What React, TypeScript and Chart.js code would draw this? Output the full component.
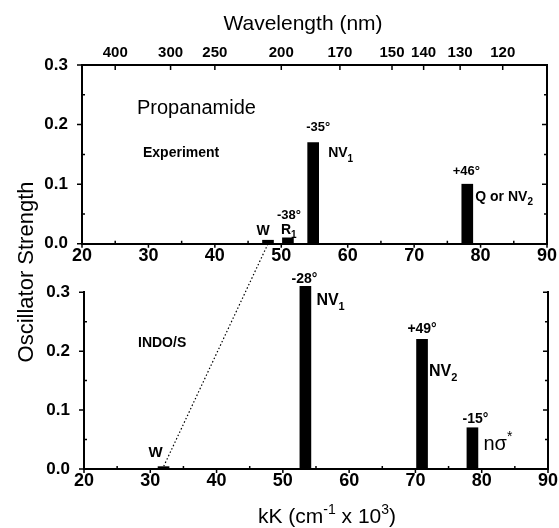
import React, { useEffect, useRef } from 'react';
import { Chart, registerables } from 'chart.js';
Chart.register(...registerables);

const FONT = '"Liberation Sans", Arial, Helvetica, sans-serif';

// ---------- data ----------
const xTicks = [20, 30, 40, 50, 60, 70, 80, 90];
const xMinorTicks = [25, 35, 45, 55, 65, 75, 85];
const yTicks = [0, 0.1, 0.2, 0.3];
const yMinorTicks = [0.05, 0.15, 0.25];
const wavelengthTicks = [400, 300, 250, 200, 170, 150, 140, 130, 120];

const expPositions = [48, 51, 54.8, 78];
const expStrengths = [0.006, 0.01, 0.17, 0.1];
const expAngles = ['', '-38°', '-35°', '+46°'];
const expNames = ['W', 'R', 'NV', 'Q or NV'];
const expNameSubs = ['', '1', '1', '2'];
const expNameSups = ['', '', '', ''];

const indoPositions = [32, 53.4, 71, 78.6];
const indoStrengths = [0.004, 0.31, 0.22, 0.07];
const indoAngles = ['', '-28°', '+49°', '-15°'];
const indoNames = ['W', 'NV', 'NV', 'nσ'];
const indoNameSubs = ['', '1', '2', ''];
const indoNameSups = ['', '', '', '*'];

// ---------- label layout (pixel offsets from bar top centre) ----------
type LabelPos = { angle: [number, number]; name: [number, number, string]; size: number; weight: string };
const expLabelLayout: LabelPos[] = [
  { angle: [0, 0], name: [-5, -5, 'center'], size: 14, weight: 'bold' },
  { angle: [1, -19], name: [-7, -4, 'left'], size: 14, weight: 'bold' },
  { angle: [5, -11], name: [15, 15, 'left'], size: 14, weight: 'bold' },
  { angle: [-1, -9], name: [8, 17, 'left'], size: 14, weight: 'bold' },
];
const indoLabelLayout: LabelPos[] = [
  { angle: [0, 0], name: [-8, -10, 'center'], size: 15, weight: 'bold' },
  { angle: [-1, -3], name: [11, 19, 'left'], size: 16, weight: 'bold' },
  { angle: [0, -6], name: [7, 37, 'left'], size: 16, weight: 'bold' },
  { angle: [3, -5], name: [11, 22, 'left'], size: 20, weight: 'normal' },
];

type Seg = { t: string; k?: 'sub' | 'sup' };

function drawRich(ctx: CanvasRenderingContext2D, segs: Seg[], x: number, y: number, size: number, weight: string, align: string) {
  const main = `${weight} ${size}px ${FONT}`;
  const small = `${weight} ${Math.round(size * 0.68)}px ${FONT}`;
  let total = 0;
  const widths = segs.map((s) => {
    ctx.font = s.k ? small : main;
    const w = ctx.measureText(s.t).width;
    total += w;
    return w;
  });
  let cx = align === 'center' ? x - total / 2 : align === 'right' ? x - total : x;
  ctx.textAlign = 'left';
  ctx.textBaseline = 'alphabetic';
  segs.forEach((s, i) => {
    ctx.font = s.k ? small : main;
    const dy = s.k === 'sub' ? size * 0.3 : s.k === 'sup' ? -size * 0.42 : 0;
    ctx.fillText(s.t, cx, y + dy);
    cx += widths[i];
  });
}

function panelPlugin(cfg: {
  topAxis: boolean;
  positions: number[];
  strengths: number[];
  angles: string[];
  names: string[];
  subs: string[];
  sups: string[];
  layout: LabelPos[];
  angleSize: number;
  texts: { t: string; dx: number; dy: number; font: string }[];
  xTitle: boolean;
}) {
  return {
    id: 'panelDecor',
    afterDatasetsDraw(chart: any) {
      const ctx: CanvasRenderingContext2D = chart.ctx;
      const { left, right, top, bottom } = chart.chartArea;
      const xs = chart.scales.x;
      const ys = chart.scales.y;
      ctx.save();
      ctx.strokeStyle = '#000';
      ctx.fillStyle = '#000';
      ctx.lineWidth = 1.5;
      ctx.beginPath();
      yTicks.forEach((v) => {
        const p = ys.getPixelForValue(v);
        ctx.moveTo(left - 5, p);
        ctx.lineTo(left, p);
        ctx.moveTo(right, p);
        ctx.lineTo(right - 5, p);
      });
      yMinorTicks.forEach((v) => {
        const p = ys.getPixelForValue(v);
        ctx.moveTo(left, p);
        ctx.lineTo(left + 3, p);
        ctx.moveTo(right, p);
        ctx.lineTo(right - 3, p);
      });
      xTicks.forEach((v) => {
        const p = xs.getPixelForValue(v);
        ctx.moveTo(p, bottom);
        ctx.lineTo(p, bottom + 4);
      });
      xMinorTicks.forEach((v) => {
        const p = xs.getPixelForValue(v);
        ctx.moveTo(p, bottom);
        ctx.lineTo(p, bottom - 3);
      });
      if (cfg.topAxis) {
        wavelengthTicks.forEach((w) => {
          const p = xs.getPixelForValue(1e4 / w);
          ctx.moveTo(p, top);
          ctx.lineTo(p, top + 5);
        });
      }
      ctx.stroke();

      // bar annotations
      cfg.positions.forEach((pos, i) => {
        const cx = xs.getPixelForValue(pos);
        const ty = ys.getPixelForValue(cfg.strengths[i]);
        const lay = cfg.layout[i];
        if (cfg.angles[i]) {
          ctx.font = `bold ${cfg.angleSize}px ${FONT}`;
          ctx.textAlign = 'center';
          ctx.textBaseline = 'alphabetic';
          ctx.fillText(cfg.angles[i], cx + lay.angle[0], ty + lay.angle[1]);
        }
        const segs: Seg[] = [{ t: cfg.names[i] }];
        if (cfg.subs[i]) segs.push({ t: cfg.subs[i], k: 'sub' });
        if (cfg.sups[i]) segs.push({ t: cfg.sups[i], k: 'sup' });
        drawRich(ctx, segs, cx + lay.name[0], ty + lay.name[1], lay.size, lay.weight, lay.name[2]);
      });

      // free texts
      cfg.texts.forEach((tx) => {
        ctx.font = tx.font;
        ctx.textAlign = 'left';
        ctx.textBaseline = 'alphabetic';
        ctx.fillText(tx.t, left + tx.dx, top + tx.dy);
      });

      if (cfg.topAxis) {
        ctx.font = `normal 21px ${FONT}`;
        ctx.textAlign = 'center';
        ctx.textBaseline = 'alphabetic';
        ctx.fillText('Wavelength (nm)', left + 221, 30);
      }
      if (cfg.xTitle) {
        drawRich(
          ctx,
          [{ t: 'kK (cm' }, { t: '-1', k: 'sup' }, { t: ' x 10' }, { t: '3', k: 'sup' }, { t: ')' }],
          left + 174,
          bottom + 54,
          21,
          'normal',
          'left'
        );
      }
      ctx.restore();
    },
  };
}

function buildChart(
  canvas: HTMLCanvasElement,
  positions: number[],
  strengths: number[],
  opts: { leftW: number; rightW: number; topH: number; bottomH: number; topAxis: boolean; padTop: number },
  plugin: any
) {
  const tickFont = { family: FONT, size: 17, weight: 'bold' as const };
  const scales: any = {
    x: {
      type: 'linear',
      position: 'bottom',
      min: 20,
      max: 90,
      offset: false,
      grid: { display: false, drawTicks: false, offset: false },
      border: { display: true, color: '#000', width: 2 },
      ticks: { font: { ...tickFont, size: 18 }, color: '#000', padding: 1, maxRotation: 0, autoSkip: false },
      afterBuildTicks: (s: any) => {
        s.ticks = xTicks.map((v) => ({ value: v }));
      },
      afterFit: (s: any) => {
        s.height = opts.bottomH;
      },
    },
    y: {
      type: 'linear',
      position: 'left',
      min: 0,
      max: 0.3,
      grid: { display: false, drawTicks: false },
      border: { display: true, color: '#000', width: 2 },
      ticks: {
        font: tickFont,
        color: '#000',
        padding: 14,
        callback: (v: number) => Number(v).toFixed(1),
      },
      afterBuildTicks: (s: any) => {
        s.ticks = yTicks.map((v) => ({ value: v }));
      },
      afterFit: (s: any) => {
        s.width = opts.leftW;
      },
    },
    yR: {
      type: 'linear',
      position: 'right',
      min: 0,
      max: 0.3,
      grid: { display: false, drawTicks: false },
      border: { display: true, color: '#000', width: 2 },
      ticks: { display: false },
      afterFit: (s: any) => {
        s.width = opts.rightW;
      },
    },
  };
  if (opts.topAxis) {
    scales.xTop = {
      type: 'linear',
      position: 'top',
      min: 20,
      max: 90,
      offset: false,
      grid: { display: false, drawTicks: false, offset: false },
      border: { display: true, color: '#000', width: 2 },
      ticks: {
        font: { ...tickFont, size: 15 },
        color: '#000',
        padding: 3,
        maxRotation: 0,
        autoSkip: false,
        callback: (v: number) => String(Math.round(1e4 / v)),
      },
      afterBuildTicks: (s: any) => {
        s.ticks = wavelengthTicks.map((w) => ({ value: 1e4 / w }));
      },
      afterFit: (s: any) => {
        s.height = opts.topH;
      },
    };
  }
  return new Chart(canvas, {
    type: 'bar',
    data: {
      datasets: [
        {
          data: positions.map((x, i) => ({ x, y: strengths[i] })) as any,
          backgroundColor: '#000',
          borderWidth: 0,
          barThickness: 11,
          clip: false as any,
          xAxisID: 'x',
          yAxisID: 'y',
        },
      ],
    },
    options: {
      responsive: false,
      maintainAspectRatio: false,
      animation: false,
      events: [],
      layout: { padding: { top: opts.padTop, left: 0, right: 0, bottom: 0 } },
      plugins: { legend: { display: false }, tooltip: { enabled: false }, title: { display: false } },
      scales,
    },
    plugins: [plugin],
  });
}

const TOP_H = 268;
const BOT_H = 260;

export default function App() {
  const topRef = useRef<HTMLCanvasElement>(null);
  const botRef = useRef<HTMLCanvasElement>(null);
  const overRef = useRef<HTMLCanvasElement>(null);

  useEffect(() => {
    const topChart = buildChart(
      topRef.current!,
      expPositions,
      expStrengths,
      { leftW: 82, rightW: 12, topH: 65, bottomH: TOP_H - 247, topAxis: true, padTop: 0 },
      panelPlugin({
        topAxis: true,
        positions: expPositions,
        strengths: expStrengths,
        angles: expAngles,
        names: expNames,
        subs: expNameSubs,
        sups: expNameSups,
        layout: expLabelLayout,
        angleSize: 13,
        texts: [
          { t: 'Propanamide', dx: 55, dy: 49, font: `normal 20px ${FONT}` },
          { t: 'Experiment', dx: 61, dy: 92, font: `bold 14px ${FONT}` },
        ],
        xTitle: false,
      })
    );
    const botChart = buildChart(
      botRef.current!,
      indoPositions,
      indoStrengths,
      { leftW: 84, rightW: 10, topH: 0, bottomH: BOT_H - 201, topAxis: false, padTop: 24 },
      panelPlugin({
        topAxis: false,
        positions: indoPositions,
        strengths: indoStrengths,
        angles: indoAngles,
        names: indoNames,
        subs: indoNameSubs,
        sups: indoNameSups,
        layout: indoLabelLayout,
        angleSize: 14,
        texts: [{ t: 'INDO/S', dx: 54, dy: 55, font: `bold 14px ${FONT}` }],
        xTitle: true,
      })
    );

    const ov = overRef.current!;
    const ctx = ov.getContext('2d')!;
    ctx.clearRect(0, 0, ov.width, ov.height);
    // dotted correlation line between the two W bands
    const x1 = topChart.scales.x.getPixelForValue(expPositions[0]);
    const y1 = topChart.scales.y.getPixelForValue(0);
    const x2 = botChart.scales.x.getPixelForValue(indoPositions[0]);
    const y2 = botChart.scales.y.getPixelForValue(indoStrengths[0]) + TOP_H;
    ctx.save();
    ctx.strokeStyle = '#000';
    ctx.lineWidth = 1.2;
    ctx.setLineDash([1.5, 2.2]);
    ctx.beginPath();
    ctx.moveTo(x1, y1);
    ctx.lineTo(x2, y2);
    ctx.stroke();
    ctx.restore();
    // y title
    ctx.save();
    ctx.fillStyle = '#000';
    ctx.font = `normal 22px ${FONT}`;
    ctx.translate(33, 272);
    ctx.rotate(-Math.PI / 2);
    ctx.textAlign = 'center';
    ctx.textBaseline = 'alphabetic';
    ctx.fillText('Oscillator Strength', 0, 0);
    ctx.restore();

    return () => {
      topChart.destroy();
      botChart.destroy();
    };
  }, []);

  return (
    <div style={{ position: 'absolute', left: 0, top: 0, width: 559, height: 528, background: '#fff' }}>
      <canvas ref={topRef} width={559} height={TOP_H} style={{ position: 'absolute', left: 0, top: 0 }} />
      <canvas ref={botRef} width={559} height={BOT_H} style={{ position: 'absolute', left: 0, top: TOP_H }} />
      <canvas
        ref={overRef}
        width={559}
        height={528}
        style={{ position: 'absolute', left: 0, top: 0, pointerEvents: 'none' }}
      />
    </div>
  );
}
